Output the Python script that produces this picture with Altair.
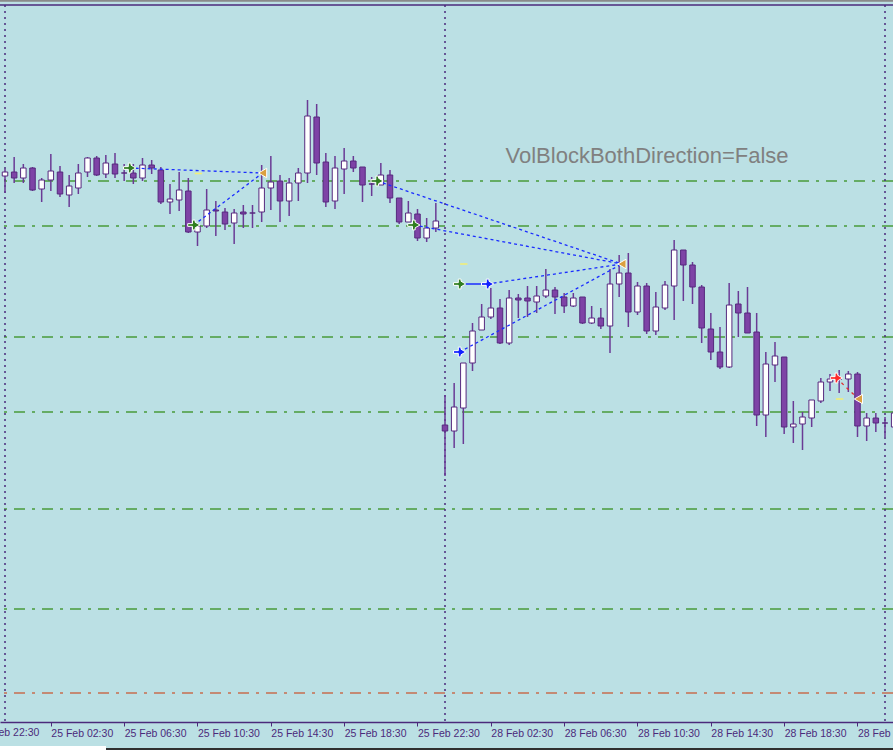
import altair as alt
import pandas as pd

# 30-minute candles. Bar 0 = 25 Feb 00:00, bar 48 = 28 Feb 00:00 (weekend skipped), bar 96 = 1 Mar 00:00
# Prices are in chart points (no price scale is visible in the screenshot).
opens = [546, 550, 544, 554, 533, 542, 550, 527, 534, 550,
         564, 548, 558, 549, 549, 544, 557, 552, 520, 522,
         531, 490, 496, 512, 510, 499, 510, 509, 510, 534,
         541, 521, 539, 549, 605, 560, 521, 553, 561, 555,
         538, 537, 547, 524, 500, 508, 484, 494, 297, 291,
         314, 359, 392, 405, 414, 379, 424, 424, 420, 426,
         432, 425, 416, 425, 399, 404, 396, 438, 449, 410,
         436, 391, 414, 436, 472, 457, 435, 393, 370, 355,
         418, 409, 390, 307, 357, 365, 295, 298, 304, 321,
         340, 343, 343, 348, 296, 304, 299, 295]
highs = [553, 565, 558, 555, 544, 568, 556, 547, 558, 565,
         566, 567, 569, 558, 558, 564, 562, 555, 538, 550,
         544, 499, 533, 521, 514, 513, 517, 517, 557, 566,
         547, 544, 554, 622, 618, 569, 566, 574, 566, 555,
         545, 559, 552, 524, 521, 513, 504, 519, 327, 339,
         359, 399, 418, 434, 423, 432, 428, 436, 436, 453,
         435, 429, 429, 425, 416, 414, 453, 467, 469, 440,
         439, 430, 441, 482, 472, 460, 437, 409, 395, 439,
         431, 435, 409, 370, 380, 365, 321, 310, 322, 344,
         348, 352, 351, 350, 309, 309, 305, 312]
lows = [529, 539, 539, 531, 520, 531, 525, 515, 528, 545,
        546, 544, 544, 541, 538, 541, 548, 518, 508, 511,
        489, 476, 494, 486, 492, 478, 494, 494, 500, 512,
        500, 506, 521, 539, 547, 515, 513, 528, 550, 520,
        526, 537, 519, 498, 500, 481, 480, 490, 246, 274,
        278, 351, 392, 403, 378, 377, 404, 405, 409, 424,
        408, 409, 415, 398, 398, 393, 369, 425, 395, 407,
        388, 387, 412, 402, 421, 418, 379, 362, 353, 354,
        385, 389, 296, 285, 340, 288, 279, 272, 295, 319,
        331, 329, 330, 285, 281, 290, 285, 292]
closes = [550, 544, 554, 532, 542, 551, 528, 536, 549, 564,
          547, 559, 548, 549, 544, 557, 554, 520, 523, 532,
          490, 496, 512, 511, 498, 509, 508, 509, 534, 540,
          521, 539, 549, 606, 559, 520, 554, 561, 554, 537,
          538, 547, 524, 500, 509, 484, 494, 501, 291, 315,
          359, 391, 405, 414, 379, 424, 422, 421, 426, 432,
          425, 416, 424, 399, 404, 396, 438, 449, 410, 436,
          391, 415, 437, 472, 457, 435, 394, 370, 355, 417,
          409, 389, 307, 358, 366, 295, 298, 305, 322, 340,
          343, 343, 348, 296, 304, 299, 299, 309]

tick_idx = [5, 13, 21, 29, 37, 45, 53, 61, 69, 77, 85, 93]
tick_lbl = ["25 Feb 02:30", "25 Feb 06:30", "25 Feb 10:30",
            "25 Feb 14:30", "25 Feb 18:30", "25 Feb 22:30", "28 Feb 02:30",
            "28 Feb 06:30", "28 Feb 10:30", "28 Feb 14:30", "28 Feb 18:30",
            "28 Feb 22:30"]
# tick just left of the visible window (its label is partly visible)
early_tick_idx = [-3]
early_tick_lbl = ["24 Feb 22:30"]

sep_idx = [0, 48, 96]
green_levels = [541, 496, 385, 310, 213, 113]
red_levels = [29]

# indicator signals (bar position, price)
green_arrow_x = [13.6, 20.6, 40.6, 44.6, 49.6]
green_arrow_v = [554, 497, 541, 497, 438]
blue_arrow_x = [52.65, 49.6]
blue_arrow_v = [438, 370]
red_arrow_x = [90.7]
red_arrow_v = [344]
target_x = [28.1, 67.3, 93.1]
target_v = [549, 458, 323]
yellow_x = [21.1, 50.05, 91.05]
yellow_v = [548.5, 458, 323]

blue_seg_x0 = [13.6, 20.6, 40.6, 44.6, 52.65, 49.6]
blue_seg_v0 = [554, 497, 541, 497, 438, 370]
blue_seg_x1 = [28.1, 28.1, 67.3, 67.3, 67.3, 67.3]
blue_seg_v1 = [549, 549, 458, 458, 458, 458]
solid_seg_x0, solid_seg_x1, solid_seg_v = [49.6], [52.65], [438]
red_seg_x0, red_seg_v0, red_seg_x1, red_seg_v1 = [90.7], [344], [93.1], [323]

label_text = ["VolBlockBothDirection=False"]
label_x = [54.6]
label_v = [559.3]

# ---------------------------------------------------------------------------
BG = "#bbe0e4"
PURPLE = "#4b2a7b"
WICK = "#6a3a95"
BODY_DOWN = "#7e43a6"
BODY_EDGE = "#56297e"
GREEN = "#4a9a3a"
LABEL_FONT = "Liberation Sans"
LABEL_SIZE = 10.5

n = len(opens)
candles = pd.DataFrame({
    "i": list(range(n)), "open": opens, "high": highs, "low": lows, "close": closes,
})
candles["dir"] = ["up" if c > o else ("down" if c < o else "doji")
                  for o, c in zip(opens, closes)]

expr = "''"
for idx, lbl in reversed(list(zip(tick_idx, tick_lbl))):
    expr = f"datum.value == {idx} ? '{lbl}' : ({expr})"

x_scale = alt.Scale(domain=[-0.5455, 96.873], nice=False, zero=False, padding=0)
y_scale = alt.Scale(domain=[0, 717], nice=False, zero=False, padding=0)
x_axis = alt.Axis(values=tick_idx, labelExpr=expr, grid=False, title=None,
                  domainColor=PURPLE, domainWidth=1.5, tickColor=PURPLE, tickWidth=1,
                  tickSize=4, labelColor=PURPLE, labelFont=LABEL_FONT,
                  labelFontSize=LABEL_SIZE, labelAlign="left", labelBaseline="top",
                  labelPadding=2, labelFlush=False, labelOverlap=False, labelBound=False)


def X(f):
    return alt.X(f, type="quantitative", scale=x_scale, axis=x_axis)


def Y(f):
    return alt.Y(f, type="quantitative", scale=y_scale, axis=None)


lev_g = alt.Chart(pd.DataFrame({"v": green_levels})).mark_rule(
    color=GREEN, strokeWidth=1.5, strokeDash=[11, 7, 3, 7]).encode(y=Y("v"))
lev_r = alt.Chart(pd.DataFrame({"v": red_levels})).mark_rule(
    color="#c86e4f", strokeWidth=1.5, strokeDash=[11, 7, 3, 7]).encode(y=Y("v"))
seps = alt.Chart(pd.DataFrame({"i": sep_idx})).mark_rule(
    color=PURPLE, strokeWidth=1.5, strokeDash=[2, 4]).encode(x=X("i"))

base = alt.Chart(candles)
wicks = base.mark_rule(color=WICK, strokeWidth=1.5, clip=True).encode(
    x=X("i"), y=Y("high"), y2="low")
bodies = base.mark_bar(size=5.5, stroke=BODY_EDGE, strokeWidth=1, clip=True).encode(
    x=X("i"), y=Y("open"), y2="close",
    fill=alt.Fill("dir:N", scale=alt.Scale(domain=["up", "down", "doji"],
                                           range=["#ffffff", BODY_DOWN, BODY_DOWN]),
                  legend=None))

blue_df = pd.DataFrame({"x0": blue_seg_x0, "v0": blue_seg_v0, "x1": blue_seg_x1, "v1": blue_seg_v1})
blue_lines = alt.Chart(blue_df).mark_rule(color="#1a2cff", strokeWidth=1.3, strokeDash=[3, 3]).encode(
    x=X("x0"), x2="x1", y=Y("v0"), y2="v1")
solid_df = pd.DataFrame({"x0": solid_seg_x0, "x1": solid_seg_x1, "v": solid_seg_v})
solid_line = alt.Chart(solid_df).mark_rule(color="#1a2cff", strokeWidth=1.5).encode(
    x=X("x0"), x2="x1", y=Y("v"))
red_df = pd.DataFrame({"x0": red_seg_x0, "v0": red_seg_v0, "x1": red_seg_x1, "v1": red_seg_v1})
red_line = alt.Chart(red_df).mark_rule(color="#e03030", strokeWidth=1.3, strokeDash=[3, 4]).encode(
    x=X("x0"), x2="x1", y=Y("v0"), y2="v1")

yel_df = pd.DataFrame({"x": yellow_x, "v": yellow_v})
yellow = alt.Chart(yel_df).transform_calculate(
    xa="datum.x - 0.4", xb="datum.x + 0.4").mark_rule(color="#f2ee78", strokeWidth=1.6).encode(
    x=X("xa"), x2="xb", y=Y("v"))

ARROW = ("M-1,-0.22L-0.22,-0.22L-0.22,-0.8L0.22,-0.8L0.22,-0.45L1,0L0.22,0.45"
         "L0.22,0.8L-0.22,0.8L-0.22,0.22L-1,0.22Z")


def arrows(xs, vs, col):
    return alt.Chart(pd.DataFrame({"x": xs, "v": vs})).mark_point(
        shape=ARROW, filled=True, color=col, stroke="white", strokeWidth=1,
        size=150, opacity=1).encode(x=X("x"), y=Y("v"))


g_arr = arrows(green_arrow_x, green_arrow_v, "#2f7d1f")
b_arr = arrows(blue_arrow_x, blue_arrow_v, "#1020ff")
r_arr = arrows(red_arrow_x, red_arrow_v, "#ff2a2a")
tri = alt.Chart(pd.DataFrame({"x": target_x, "v": target_v})).mark_point(
    shape="triangle-left", filled=True, color="#dba040", stroke="white", strokeWidth=1,
    size=90, opacity=1).encode(x=X("x"), y=Y("v"))

txt = alt.Chart(pd.DataFrame({"x": label_x, "v": label_v, "t": label_text})).mark_text(
    align="left", baseline="alphabetic", font="Liberation Sans", fontSize=22,
    color="#808080").encode(x=X("x"), y=Y("v"), text="t:N")

early = alt.Chart(pd.DataFrame({"x": early_tick_idx, "t": early_tick_lbl})).mark_text(
    align="left", baseline="top", font=LABEL_FONT, fontSize=LABEL_SIZE, color=PURPLE,
    clip=False).encode(x=X("x"), y=alt.value(723), text="t:N")

# frame decorations
top_line = alt.Chart(pd.DataFrame({"a": [0]})).mark_rule(color=PURPLE, strokeWidth=1.5).encode(
    x=alt.value(0), x2=alt.value(893), y=alt.value(0))
top_gray = alt.Chart(pd.DataFrame({"a": [0]})).mark_rule(color="#8a8a8a", strokeWidth=1.8).encode(
    x=alt.value(0), x2=alt.value(893), y=alt.value(-4.2))
bot_white = alt.Chart(pd.DataFrame({"a": [0]})).mark_rule(color="#ffffff", strokeWidth=4).encode(
    x=alt.value(0), x2=alt.value(106), y=alt.value(743))
bot_dark = alt.Chart(pd.DataFrame({"a": [0]})).mark_rule(color="#303030", strokeWidth=2.2).encode(
    x=alt.value(106), x2=alt.value(893), y=alt.value(744))

chart = alt.layer(
    lev_g, lev_r, seps, wicks, bodies, blue_lines, solid_line, red_line, yellow,
    g_arr, b_arr, r_arr, tri, txt, early, top_line, top_gray, bot_white, bot_dark
).properties(
    width=893, height=717,
    autosize=alt.AutoSizeParams(type="none"),
    padding={"left": 0, "right": 0, "top": 5, "bottom": 28},
    background=BG,
).configure_view(strokeWidth=0, fill=BG)

chart.save("out.html", embed_options={"renderer": "svg", "actions": False})
